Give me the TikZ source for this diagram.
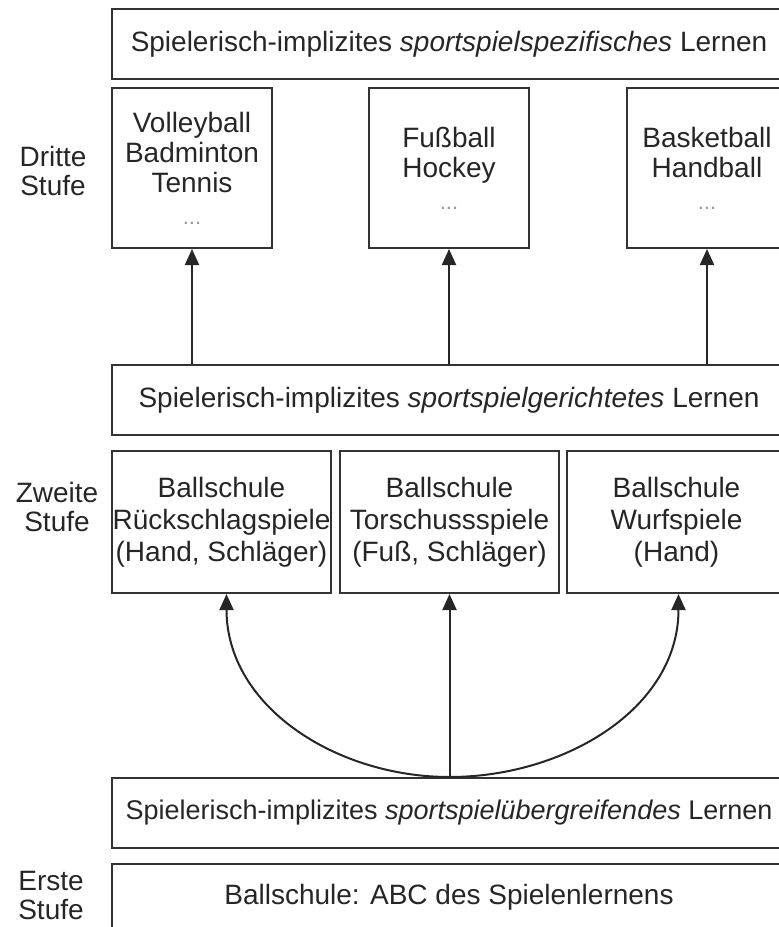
\documentclass[tikz,border=0pt]{standalone}
\usepackage{fontspec}
\setmainfont{Liberation Sans}
\usetikzlibrary{arrows.meta,positioning}

\begin{document}
\begin{tikzpicture}[x=1pt,y=1pt,>={Triangle[width=14pt,length=16pt]},line width=2pt]
	\tikzstyle{wide}=[rectangle, draw=black!80, text=black!85, minimum width=674pt, minimum height=70pt, inner sep=0pt, font=\fontsize{28}{30}\selectfont]
	\tikzstyle{sport}=[rectangle, draw=black!80, text=black!85, minimum width=160pt, minimum height=160pt, inner sep=0pt, align=center, font=\fontsize{28}{30}\selectfont]
	\tikzstyle{ball}=[rectangle, draw=black!80, text=black!85, minimum width=219pt, minimum height=142pt, inner sep=0pt, align=center, font=\fontsize{28}{32}\selectfont]
	\tikzstyle{stufe}=[align=center, text=black!85, font=\fontsize{28}{29}\selectfont]
	\newcommand{\dotsrow}{\\[2pt]{\fontsize{22}{22}\selectfont\color{black!40}...}}

	\useasboundingbox (0,0) rectangle (779,-927);
	\clip (0,0) rectangle (779,-927);

	% dritte Stufe
	\node [wide, anchor=north west] (spez) at (111,-8) {Spielerisch-implizites \textit{sportspielspezifisches} Lernen};
	\node [sport, below=7pt of spez.south west, anchor=north west] (volley) {Volleyball\\Badminton\\Tennis\dotsrow};
	\node [sport, right=95pt of volley] (fuss) {Fußball\\Hockey\dotsrow};
	\node [sport, right=96pt of fuss] (basket) {Basketball\\Handball\dotsrow};
	\node [stufe] (dritte) at (53,-171) {Dritte\\Stufe};

	% zweite Stufe
	\node [wide, below=115pt of volley.south west, anchor=north west] (gericht) {Spielerisch-implizites \textit{sportspielgerichtetes} Lernen};
	\node [ball, below=14pt of gericht.south west, anchor=north west] (rueck) {Ballschule\\Rückschlagspiele\\(Hand, Schläger)};
	\node [ball, right=7pt of rueck] (tor) {Ballschule\\Torschussspiele\\(Fuß, Schläger)};
	\node [ball, right=6pt of tor] (wurf) {Ballschule\\Wurfspiele\\(Hand)};
	\node [stufe] (zweite) at (57,-507) {Zweite\\Stufe};

	% erste Stufe
	\node [wide, below=183pt of rueck.south west, anchor=north west, font=\fontsize{27}{30}\selectfont] (ueber) {Spielerisch-implizites \textit{sportspielübergreifendes} Lernen};
	\node [wide, below=14pt of ueber.south west, anchor=north west, minimum height=66pt] (abc) {Ballschule: ABC des Spielenlernens};
	\node [stufe] (erste) at (51,-895) {Erste\\Stufe};

	% Pfeile
	\draw [->, black!85] (gericht.north -| volley.south) -- (volley.south);
	\draw [->, black!85] (gericht.north -| fuss.south) -- (fuss.south);
	\draw [->, black!85] (gericht.north -| basket.south) -- (basket.south);
	\draw [->, black!85] (ueber.north -| tor.south) -- (tor.south);
	\draw [->, black!85] (ueber.north -| tor.south) to[out=180,in=-90] ([xshift=5pt]rueck.south);
	\draw [->, black!85] (ueber.north -| tor.south) to[out=0,in=-90] ([xshift=2pt]wurf.south);
\end{tikzpicture}
\end{document}
